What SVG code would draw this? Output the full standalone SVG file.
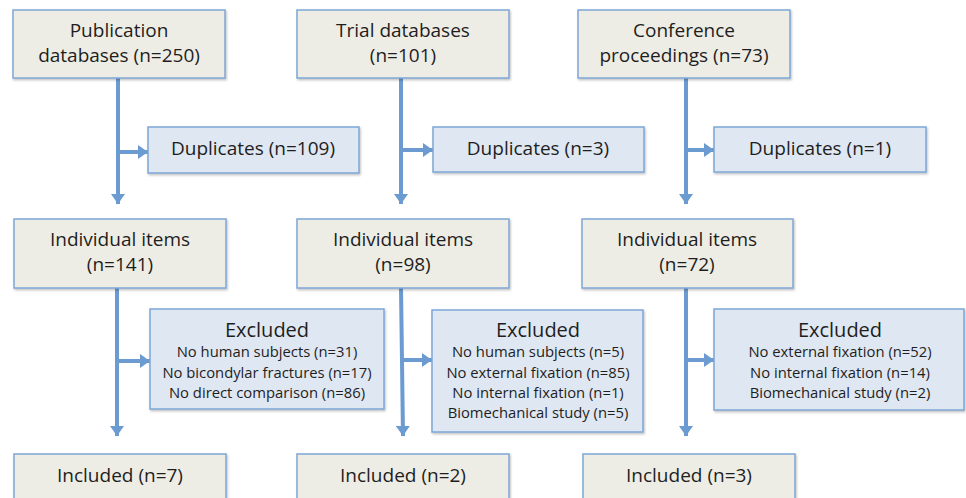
<svg xmlns="http://www.w3.org/2000/svg" width="966" height="498" viewBox="0 0 966 498">
<defs>
<marker id="ah" markerUnits="userSpaceOnUse" markerWidth="14" markerHeight="14" refX="10" refY="7" orient="auto">
<path d="M0,0 L10,7 L0,14 Z" fill="#6b9bd0"/>
</marker>
<filter id="sh" x="-5%" y="-5%" width="110%" height="115%">
<feDropShadow dx="1" dy="1.5" stdDeviation="1" flood-color="#000" flood-opacity="0.25"/>
</filter>
<style>
.src{fill:#eeede5;stroke:#7ea7d6;stroke-width:1.5;filter:url(#sh)}
.ex{fill:#dfe7f2;stroke:#7ea7d6;stroke-width:1.5;filter:url(#sh)}
text{font-family:"Open Sans","Liberation Sans",sans-serif;fill:#1e1e1e;text-anchor:middle}
.t{font-size:19px}
.h{font-size:20px}
.s{font-size:14.8px}
.c{fill:none;stroke:#6b9bd0;stroke-width:4}
</style>
</defs>
<rect width="966" height="498" fill="#fff"/>
<g id="connectors">
<line class="c" x1="118" y1="78" x2="118" y2="204" marker-end="url(#ah)"/>
<line class="c" x1="118" y1="152" x2="148" y2="152" marker-end="url(#ah)"/>
<line class="c" x1="401" y1="78" x2="401" y2="204" marker-end="url(#ah)"/>
<line class="c" x1="401" y1="150" x2="433" y2="150" marker-end="url(#ah)"/>
<line class="c" x1="686" y1="78" x2="686" y2="204" marker-end="url(#ah)"/>
<line class="c" x1="686" y1="150" x2="714" y2="150" marker-end="url(#ah)"/>
<line class="c" x1="117" y1="288" x2="117" y2="436" marker-end="url(#ah)"/>
<line class="c" x1="117" y1="361" x2="150" y2="361" marker-end="url(#ah)"/>
<line class="c" x1="401" y1="288" x2="403" y2="436" marker-end="url(#ah)"/>
<line class="c" x1="402" y1="360" x2="432" y2="360" marker-end="url(#ah)"/>
<line class="c" x1="686" y1="288" x2="686" y2="436" marker-end="url(#ah)"/>
<line class="c" x1="686" y1="360" x2="714" y2="360" marker-end="url(#ah)"/>
</g>
<g id="pub"><rect class="src" x="13" y="10" width="212" height="68"/><text class="t" x="119" y="37">Publication</text><text class="t" x="119" y="62">databases (n=250)</text></g>
<g id="trial"><rect class="src" x="297" y="10" width="212" height="68"/><text class="t" x="403" y="37">Trial databases</text><text class="t" x="403" y="62">(n=101)</text></g>
<g id="conf"><rect class="src" x="578" y="10" width="212" height="68"/><text class="t" x="684" y="37">Conference</text><text class="t" x="684" y="62">proceedings (n=73)</text></g>
<g id="dup1"><rect class="ex" x="148" y="127" width="211" height="46"/><text class="t" x="253" y="155">Duplicates (n=109)</text></g>
<g id="dup2"><rect class="ex" x="433" y="127" width="211" height="45"/><text class="t" x="538" y="155">Duplicates (n=3)</text></g>
<g id="dup3"><rect class="ex" x="714" y="127" width="212" height="45"/><text class="t" x="820" y="155">Duplicates (n=1)</text></g>
<g id="ind1"><rect class="src" x="14" y="219" width="212" height="69"/><text class="t" x="120" y="246">Individual items</text><text class="t" x="120" y="271">(n=141)</text></g>
<g id="ind2"><rect class="src" x="297" y="219" width="212" height="69"/><text class="t" x="403" y="246">Individual items</text><text class="t" x="403" y="271">(n=98)</text></g>
<g id="ind3"><rect class="src" x="582" y="219" width="211" height="69"/><text class="t" x="687" y="246">Individual items</text><text class="t" x="687" y="271">(n=72)</text></g>
<g id="exc1"><rect class="ex" x="150" y="309" width="234" height="100"/><text class="h" x="267" y="337">Excluded</text><text class="s" x="267" y="357">No human subjects (n=31)</text><text class="s" x="267" y="378">No bicondylar fractures (n=17)</text><text class="s" x="267" y="398">No direct comparison (n=86)</text></g>
<g id="exc2"><rect class="ex" x="432" y="310" width="211" height="122"/><text class="h" x="538" y="337">Excluded</text><text class="s" x="538" y="357">No human subjects (n=5)</text><text class="s" x="538" y="378">No external fixation (n=85)</text><text class="s" x="538" y="398">No internal fixation (n=1)</text><text class="s" x="538" y="418">Biomechanical study (n=5)</text></g>
<g id="exc3"><rect class="ex" x="714" y="309" width="250" height="101"/><text class="h" x="840" y="337">Excluded</text><text class="s" x="840" y="357">No external fixation (n=52)</text><text class="s" x="840" y="378">No internal fixation (n=14)</text><text class="s" x="840" y="398">Biomechanical study (n=2)</text></g>
<g id="inc1"><rect class="src" x="14" y="454" width="212" height="60"/><text class="t" x="120" y="482">Included (n=7)</text></g>
<g id="inc2"><rect class="src" x="297" y="454" width="212" height="60"/><text class="t" x="403" y="482">Included (n=2)</text></g>
<g id="inc3"><rect class="src" x="583" y="454" width="212" height="60"/><text class="t" x="689" y="482">Included (n=3)</text></g>
</svg>
